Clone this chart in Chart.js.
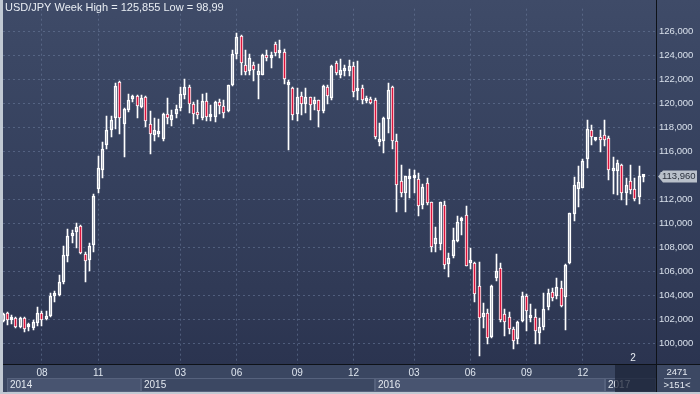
<!DOCTYPE html>
<html>
<head>
<meta charset="utf-8">
<script src="https://cdn.jsdelivr.net/npm/chart.js@4.4.0/dist/chart.umd.min.js"></script>
<style>
  html, body { margin: 0; padding: 0; background: #2b3450; }
  canvas { display: block; }
</style>
</head>
<body>
<canvas id="usdjpyChart" width="700" height="394"></canvas>
<script>
// USD/JPY weekly candles (one entry per week)
const opens = [
  101.90, 102.60, 102.02, 102.14, 101.43, 102.11, 101.42, 101.32, 101.73, 102.57,
  102.05, 102.35, 104.01, 104.09, 105.12, 107.28, 108.99, 109.29, 109.80, 107.50,
  107.01, 108.23, 112.92, 114.44, 116.58, 117.83, 118.83, 121.81, 118.29, 119.51,
  120.40, 120.64, 119.72, 120.59, 118.29, 117.42, 117.47, 117.07, 119.10, 118.61,
  119.10, 119.64, 120.73, 121.40, 120.00, 119.29, 118.83, 120.24, 118.93, 118.91,
  120.18, 119.83, 119.37, 121.54, 124.11, 125.60, 123.25, 122.68, 123.25, 122.35,
  122.43, 124.06, 123.82, 124.98, 124.20, 124.30, 121.54, 121.27, 119.18, 120.67,
  119.97, 120.54, 119.99, 120.27, 119.37, 121.40, 120.46, 123.36, 122.35, 122.76,
  122.70, 123.17, 121.05, 121.27, 120.24, 120.40, 120.32, 116.80, 116.88, 118.69,
  121.40, 116.93, 113.60, 112.57, 113.70, 113.79, 113.76, 111.59, 113.41, 111.78,
  108.29, 108.34, 111.54, 106.63, 107.31, 108.53, 110.21, 110.73, 106.72, 106.77,
  104.82, 102.25, 102.58, 100.55, 105.45, 106.32, 102.47, 102.20, 101.22, 100.44,
  101.90, 104.02, 102.17, 102.25, 100.90, 101.36, 103.07, 104.29, 103.96, 104.61,
  103.88, 106.73, 110.85, 112.91, 113.01, 115.40, 117.84, 117.00, 117.13, 117.35,
  117.11, 114.42, 114.37, 114.86, 112.55, 113.58, 112.88, 112.23, 113.90
];
const highs = [
  102.55, 102.68, 102.41, 102.24, 102.27, 102.22, 101.73, 101.95, 103.08, 102.73,
  102.73, 104.25, 104.41, 105.71, 108.15, 109.56, 109.51, 110.05, 109.86, 107.61,
  108.37, 112.51, 115.63, 116.85, 118.96, 118.96, 121.73, 121.86, 119.64, 120.81,
  120.73, 120.73, 120.73, 120.64, 119.37, 118.83, 118.69, 119.24, 120.51, 119.45,
  119.86, 121.35, 122.08, 121.59, 120.18, 120.32, 120.78, 120.86, 119.91, 120.24,
  120.37, 120.32, 121.59, 124.44, 125.86, 125.74, 124.47, 124.11, 123.49, 123.30,
  124.17, 124.47, 124.30, 125.12, 125.33, 124.57, 121.95, 121.40, 121.32, 121.00,
  121.27, 120.59, 120.59, 120.32, 121.54, 121.54, 123.25, 123.57, 123.76, 123.25,
  123.65, 123.49, 123.57, 121.54, 120.64, 120.59, 120.51, 118.37, 118.88, 121.73,
  121.49, 117.47, 114.90, 114.01, 114.57, 114.49, 114.20, 113.33, 113.82, 111.84,
  109.75, 111.84, 111.92, 107.53, 109.62, 110.62, 110.56, 111.49, 107.99, 106.85,
  106.85, 103.40, 102.93, 104.88, 107.46, 106.73, 102.88, 102.61, 101.44, 101.93,
  104.29, 104.15, 103.34, 102.88, 102.12, 104.21, 104.56, 104.61, 105.51, 105.24,
  106.64, 110.93, 113.91, 114.78, 115.40, 118.65, 118.24, 117.16, 117.78, 118.60,
  117.30, 115.59, 115.32, 114.94, 113.85, 114.91, 113.77, 114.78, 114.10
];
const lows = [
  101.80, 101.59, 101.65, 101.32, 101.32, 101.00, 101.10, 101.11, 101.46, 101.46,
  101.95, 102.24, 103.49, 103.98, 104.98, 106.80, 108.37, 107.99, 107.45, 105.17,
  106.04, 107.61, 112.60, 113.82, 116.20, 117.20, 117.88, 117.47, 115.58, 119.32,
  120.13, 118.83, 119.64, 118.02, 115.85, 116.93, 117.20, 116.93, 118.34, 118.15,
  118.83, 119.37, 120.40, 119.24, 118.34, 118.69, 118.64, 118.56, 118.56, 118.48,
  119.10, 118.83, 119.32, 121.46, 123.71, 122.41, 122.35, 122.35, 121.89, 120.37,
  122.35, 123.52, 122.98, 123.98, 123.84, 121.67, 116.12, 118.61, 118.56, 119.02,
  119.24, 118.64, 119.51, 118.02, 119.24, 119.99, 120.27, 122.43, 122.16, 122.27,
  122.27, 120.54, 120.27, 119.99, 120.05, 119.97, 117.07, 116.44, 115.90, 117.56,
  116.25, 110.97, 112.24, 111.02, 112.14, 112.54, 110.62, 111.19, 111.59, 107.64,
  107.64, 107.85, 106.23, 105.60, 107.18, 108.45, 109.07, 106.44, 106.23, 103.52,
  98.99, 101.33, 99.95, 100.49, 105.24, 101.85, 100.63, 100.82, 99.54, 99.95,
  101.79, 101.09, 101.79, 100.01, 100.01, 101.17, 102.80, 103.53, 103.75, 103.07,
  101.17, 106.67, 110.20, 111.39, 112.96, 114.64, 116.54, 116.89, 115.94, 116.48,
  113.64, 112.50, 112.42, 111.96, 111.60, 112.47, 111.88, 111.66, 113.50
];
const closes = [
  102.45, 102.00, 102.08, 101.43, 102.11, 101.27, 101.48, 101.84, 102.60, 102.00,
  102.35, 103.98, 104.22, 105.12, 107.39, 109.02, 109.24, 109.72, 107.56, 106.88,
  108.15, 112.33, 114.63, 116.25, 117.80, 118.64, 121.49, 118.78, 119.56, 120.32,
  120.64, 119.78, 120.51, 118.56, 117.47, 117.80, 117.64, 119.10, 118.78, 119.05,
  119.59, 120.81, 121.40, 120.00, 119.10, 119.02, 120.24, 118.91, 119.00, 120.18,
  119.78, 119.24, 121.54, 124.11, 125.55, 123.38, 122.62, 123.84, 122.84, 122.68,
  124.06, 123.79, 123.98, 124.20, 124.33, 122.03, 121.73, 119.02, 120.59, 119.97,
  120.59, 119.91, 120.27, 119.43, 121.46, 120.64, 123.11, 122.57, 122.81, 122.87,
  123.11, 120.94, 121.16, 120.32, 120.46, 120.05, 117.20, 116.99, 118.83, 121.13,
  116.88, 113.22, 112.57, 114.00, 113.77, 113.87, 111.49, 113.08, 111.70, 108.07,
  108.78, 111.78, 106.55, 107.15, 108.61, 110.16, 110.35, 106.50, 106.99, 104.11,
  102.16, 102.55, 100.49, 104.83, 106.05, 101.98, 101.79, 101.22, 100.22, 101.85,
  103.96, 102.72, 102.34, 101.04, 101.36, 102.88, 104.21, 103.80, 104.75, 103.15,
  106.59, 110.87, 113.23, 113.45, 115.26, 117.92, 117.24, 117.05, 116.94, 116.94,
  114.45, 114.64, 115.07, 112.55, 113.23, 112.82, 112.07, 113.96, 113.96
];

// axis labels
const monthTickIdx = [9, 22, 41, 54, 68, 81, 95, 108, 121, 134];
const monthTickLabels = ['08', '11', '03', '06', '09', '12', '03', '06', '09', '12'];
const yearStartIdx = [1, 32, 86, 139];
const yearLabels = ['2014', '2015', '2016', '2017'];
const priceTicks = [100, 102, 104, 106, 108, 110, 112, 114, 116, 118, 120, 122, 124, 126];

const FONT = '"Liberation Sans", Arial, sans-serif';
const RED = '#dc143c';
const fmt = v => v.toFixed(3).replace('.', ',');

const bodies = opens.map((o, i) => ({ x: i, y: [Math.min(o, closes[i]), Math.max(o, closes[i])] }));
const upperWicks = highs.map((h, i) => ({ x: i, y: [Math.max(opens[i], closes[i]), h] }));
const lowerWicks = lows.map((l, i) => ({ x: i, y: [l, Math.min(opens[i], closes[i])] }));
const bodyColors = opens.map((o, i) => closes[i] < o ? RED : 'rgba(0,0,0,0)');

// background, bottom bar
const chartBackground = {
  id: 'chartBackground',
  beforeDraw(chart) {
    const { ctx, chartArea } = chart;
    const g = ctx.createLinearGradient(0, 0, 0, chartArea.bottom);
    g.addColorStop(0, '#3f4b68');
    g.addColorStop(0.16, '#3b4764');
    g.addColorStop(0.5, '#35405d');
    g.addColorStop(0.79, '#303a56');
    g.addColorStop(1, '#2b3450');
    ctx.save();
    ctx.fillStyle = g;
    ctx.fillRect(0, 0, chart.width, chartArea.bottom);
    ctx.fillStyle = '#3a4661';
    ctx.fillRect(0, chartArea.bottom, chart.width, chart.height - chartArea.bottom);
    ctx.restore();
  }
};

// snap bars to whole pixels so 1px wicks stay crisp
const snapBars = {
  id: 'snapBars',
  beforeDatasetsDraw(chart) {
    chart.data.datasets.forEach((ds, i) => {
      chart.getDatasetMeta(i).data.forEach(el => {
        el.x = Math.floor(el.x) + 0.5;
        el.y = Math.round(el.y);
        el.base = Math.round(el.base);
      });
    });
  }
};

const overlays = {
  id: 'overlays',
  afterDraw(chart) {
    const { ctx, chartArea } = chart;
    const xs = chart.scales.x, ys = chart.scales.y;
    const bottom = chartArea.bottom;
    ctx.save();
    ctx.textBaseline = 'middle';

    // year row
    yearStartIdx.forEach((start, k) => {
      const left = Math.round(xs.getPixelForValue(start));
      const right = k + 1 < yearStartIdx.length ? Math.round(xs.getPixelForValue(yearStartIdx[k + 1])) : chartArea.right;
      ctx.fillStyle = k % 2 === 0 ? '#485470' : '#3c4863';
      ctx.fillRect(left, bottom + 14, right - left, 14);
      ctx.strokeStyle = '#56627d';
      ctx.lineWidth = 1;
      ctx.strokeRect(left + 0.5, bottom + 14.5, right - left - 1, 13);
      ctx.fillStyle = '#e4e9f0';
      ctx.font = '10px ' + FONT;
      ctx.textAlign = 'left';
      ctx.fillText(yearLabels[k], left + 3, bottom + 21.5);
    });

    // scroll window shade
    ctx.fillStyle = 'rgba(28,36,56,0.75)';
    ctx.fillRect(615, bottom + 1, chartArea.right - 615, 27);

    // black separators
    ctx.fillStyle = '#0e1218';
    ctx.fillRect(chartArea.right, 0, 1, chart.height);
    ctx.fillRect(0, bottom, chart.width, 1);

    // corner box
    ctx.fillStyle = '#3c4863';
    ctx.fillRect(chartArea.right + 1, bottom + 1, chart.width - chartArea.right - 1, 27);
    ctx.fillStyle = '#e4e9f0';
    ctx.font = '9.5px ' + FONT;
    ctx.textAlign = 'center';
    ctx.fillText('2471', 677, bottom + 8);
    ctx.fillText('>151<', 677, bottom + 21);
    ctx.fillStyle = '#8a96ad';
    ctx.fillRect(664, bottom + 14, 27, 1);

    // title
    ctx.font = '11px ' + FONT;
    ctx.textAlign = 'left';
    ctx.fillStyle = '#e8edf3';
    ctx.fillText('USD/JPY Week High = 125,855 Low = 98,99', 5, 8);

    // marker
    ctx.font = '10px ' + FONT;
    ctx.textAlign = 'center';
    ctx.fillText('2', 633, 358);

    // last price tag
    const last = closes[closes.length - 1];
    const y = Math.round(ys.getPixelForValue(last)) + 0.5;
    const x0 = chartArea.right + 2;
    ctx.beginPath();
    ctx.moveTo(x0, y);
    ctx.lineTo(x0 + 5, y - 6);
    ctx.lineTo(697, y - 6);
    ctx.lineTo(697, y + 6);
    ctx.lineTo(x0 + 5, y + 6);
    ctx.closePath();
    ctx.fillStyle = '#b9c0ca';
    ctx.fill();
    ctx.fillStyle = '#2a303c';
    ctx.font = '9.5px ' + FONT;
    ctx.textAlign = 'left';
    ctx.fillText(fmt(last), x0 + 4, y);

    // outer frame
    ctx.fillStyle = '#c1c9d3';
    ctx.fillRect(0, 0, 3, chart.height);
    ctx.fillRect(0, chart.height - 2, chart.width, 2);
    ctx.restore();
  }
};

new Chart(document.getElementById('usdjpyChart'), {
  type: 'bar',
  data: {
    datasets: [
      {
        label: 'body',
        data: bodies,
        order: 0,
        grouped: false,
        barThickness: 3,
        minBarLength: 3,
        backgroundColor: bodyColors,
        borderColor: '#ffffff',
        borderWidth: 1,
        borderSkipped: false
      },
      {
        label: 'upper wick',
        data: upperWicks,
        order: 1,
        grouped: false,
        barThickness: 1,
        backgroundColor: '#ffffff',
        borderWidth: 0
      },
      {
        label: 'lower wick',
        data: lowerWicks,
        order: 1,
        grouped: false,
        barThickness: 1,
        backgroundColor: '#ffffff',
        borderWidth: 0
      }
    ]
  },
  options: {
    responsive: false,
    animation: false,
    devicePixelRatio: 1,
    events: [],
    layout: { padding: { left: 3, top: 0, right: 0, bottom: 0 } },
    plugins: { legend: { display: false }, tooltip: { enabled: false } },
    scales: {
      x: {
        type: 'linear',
        position: 'bottom',
        min: 0,
        max: 150.9,
        offset: false,
        afterFit: s => { s.height = 30; },
        afterBuildTicks: s => { s.ticks = monthTickIdx.map(v => ({ value: v })); },
        grid: { color: 'rgba(110,126,158,0.55)', drawTicks: false, offset: false },
        border: { display: false, dash: [2, 3] },
        ticks: {
          autoSkip: false,
          maxRotation: 0,
          padding: 3,
          color: '#dfe6ef',
          font: { family: FONT, size: 10 },
          callback: v => monthTickLabels[monthTickIdx.indexOf(v)]
        }
      },
      y: {
        position: 'right',
        min: 98.32,
        max: 127.91,
        afterFit: s => { s.width = 44; },
        afterBuildTicks: s => { s.ticks = priceTicks.map(v => ({ value: v })); },
        grid: { color: 'rgba(110,126,158,0.55)', drawTicks: false },
        border: { display: false, dash: [2, 3] },
        ticks: {
          padding: 3,
          color: '#d8e0eb',
          font: { family: FONT, size: 9.5 },
          callback: v => fmt(v)
        }
      }
    }
  },
  plugins: [chartBackground, snapBars, overlays]
});
</script>
</body>
</html>
